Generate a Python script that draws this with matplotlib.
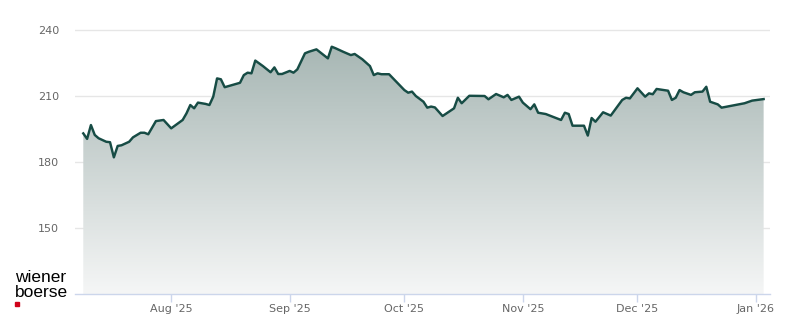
import matplotlib.pyplot as plt
import matplotlib.dates as mdates
import numpy as np
import pandas as pd
from matplotlib.colors import LinearSegmentedColormap
from matplotlib.patches import Rectangle

# Kursverlauf
datum = ['2025-07-09', '2025-07-10', '2025-07-11', '2025-07-12', '2025-07-13', '2025-07-15',
         '2025-07-16', '2025-07-17', '2025-07-18', '2025-07-19', '2025-07-21', '2025-07-22',
         '2025-07-24', '2025-07-25', '2025-07-26', '2025-07-27', '2025-07-28', '2025-07-30',
         '2025-08-01', '2025-08-04', '2025-08-05', '2025-08-06', '2025-08-07', '2025-08-08',
         '2025-08-10', '2025-08-11', '2025-08-12', '2025-08-13', '2025-08-14', '2025-08-15',
         '2025-08-19', '2025-08-20', '2025-08-21', '2025-08-22', '2025-08-23', '2025-08-25',
         '2025-08-27', '2025-08-28', '2025-08-29', '2025-08-30', '2025-09-01', '2025-09-02',
         '2025-09-03', '2025-09-05', '2025-09-06', '2025-09-08', '2025-09-11', '2025-09-12',
         '2025-09-13', '2025-09-15', '2025-09-17', '2025-09-18', '2025-09-20', '2025-09-22',
         '2025-09-23', '2025-09-24', '2025-09-25', '2025-09-27', '2025-09-30', '2025-10-01',
         '2025-10-02', '2025-10-03', '2025-10-04', '2025-10-06', '2025-10-07', '2025-10-08',
         '2025-10-09', '2025-10-11', '2025-10-14', '2025-10-15', '2025-10-16', '2025-10-18',
         '2025-10-22', '2025-10-23', '2025-10-25', '2025-10-27', '2025-10-28', '2025-10-29',
         '2025-10-31', '2025-11-01', '2025-11-03', '2025-11-04', '2025-11-05', '2025-11-07',
         '2025-11-11', '2025-11-12', '2025-11-13', '2025-11-14', '2025-11-17', '2025-11-18',
         '2025-11-19', '2025-11-20', '2025-11-22', '2025-11-24', '2025-11-27', '2025-11-28',
         '2025-11-29', '2025-12-01', '2025-12-03', '2025-12-04', '2025-12-05', '2025-12-06',
         '2025-12-09', '2025-12-10', '2025-12-11', '2025-12-12', '2025-12-13', '2025-12-15',
         '2025-12-16', '2025-12-18', '2025-12-19', '2025-12-20', '2025-12-22', '2025-12-23',
         '2025-12-29', '2025-12-31', '2026-01-03']
kurs = [193.0, 190.5, 196.8, 192.3, 190.8, 189.2,
        189.0, 182.1, 187.3, 187.6, 189.2, 191.2,
        193.3, 193.3, 192.6, 195.6, 198.6, 199.1,
        195.3, 199.1, 202.1, 205.9, 204.4, 207.0,
        206.4, 205.9, 209.7, 218.0, 217.6, 214.0,
        216.0, 219.5, 220.6, 220.3, 226.1, 223.6,
        220.8, 223.0, 220.0, 220.0, 221.4, 220.6,
        222.1, 229.4, 230.1, 231.2, 227.1, 232.4,
        231.7, 230.1, 228.6, 229.1, 226.7, 223.6,
        219.5, 220.3, 219.9, 219.9, 214.5, 212.7,
        211.5, 212.0, 210.0, 207.4, 204.7, 205.2,
        204.8, 200.9, 204.4, 209.2, 206.7, 210.1,
        210.0, 208.5, 210.9, 209.4, 210.5, 208.2,
        209.7, 207.0, 204.0, 206.2, 202.4, 201.8,
        199.1, 202.4, 201.8, 196.5, 196.5, 192.0,
        200.0, 198.3, 202.6, 201.1, 208.2, 209.2,
        208.9, 213.5, 209.7, 211.2, 210.8, 213.2,
        212.4, 208.2, 209.2, 212.7, 211.7, 210.5,
        211.7, 212.0, 214.2, 207.4, 206.2, 204.7,
        206.7, 207.9, 208.6]

y_ticks = [150, 180, 210, 240]
x_ticks = ['2025-08-01', '2025-09-01', '2025-10-01', '2025-11-01', '2025-12-01', '2026-01-01']
x_labels = ["Aug '25", "Sep '25", "Oct '25", "Nov '25", "Dec '25", "Jan '26"]

x = mdates.date2num(pd.to_datetime(datum))
y = np.array(kurs)

fig = plt.figure(figsize=(8, 3.24), dpi=100)
ax = fig.add_axes([75 / 800, 30 / 324, 695 / 800, 275 / 324])

x0 = mdates.date2num(pd.Timestamp('2025-07-06 20:00'))
x1 = mdates.date2num(pd.Timestamp('2026-01-04 16:00'))
ymin, ymax = 120, 245

# Flaeche mit Farbverlauf
poly = ax.fill_between(x, y, ymin, facecolor='none', edgecolor='none')
cmap = LinearSegmentedColormap.from_list('verlauf', ['#f5f6f6', '#9fb0ad'])
grad = np.linspace(0, 1, 256).reshape(-1, 1)
img = ax.imshow(grad, cmap=cmap, origin='lower', aspect='auto',
                extent=[x0, x1, ymin, ymax], zorder=1)
img.set_clip_path(poly.get_paths()[0], transform=ax.transData)

ax.plot(x, y, color='#174c45', linewidth=1.75, zorder=3, solid_joinstyle='round')

ax.set_xlim(x0, x1)
ax.set_ylim(ymin, ymax)

ax.set_yticks(y_ticks)
ax.yaxis.grid(True, color='#e6e6e6', linewidth=1)
ax.set_axisbelow(True)
ax.tick_params(axis='y', length=0, pad=11.5, labelsize=8, labelcolor='#666666')

ax.set_xticks(mdates.date2num(pd.to_datetime(x_ticks)))
ax.set_xticklabels(x_labels)
ax.tick_params(axis='x', length=6, width=1, color='#ccd6eb', pad=1.5,
               labelsize=8, labelcolor='#666666')

for s in ['top', 'right', 'left']:
    ax.spines[s].set_visible(False)
ax.spines['bottom'].set_color('#ccd6eb')
ax.spines['bottom'].set_linewidth(1)

# Logo
fig.text(15 / 800, 1 - 282 / 324, 'wiener', fontsize=12.5, family='Liberation Sans',
         color='#000000', va='baseline')
fig.text(15 / 800, 1 - 297 / 324, 'boerse', fontsize=12.5, family='Liberation Sans',
         color='#000000', va='baseline')
fig.patches.append(Rectangle((15 / 800, 1 - 306 / 324), 4 / 800, 4 / 324,
                             transform=fig.transFigure, color='#d0021b'))

fig.savefig('out.png', dpi=100)
